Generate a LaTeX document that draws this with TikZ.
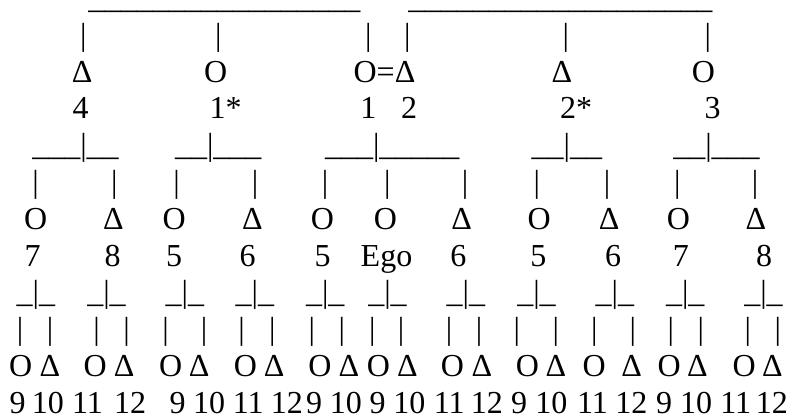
\documentclass[tikz,border=0pt]{standalone}
\usepackage{fontspec}
\setmainfont{Liberation Serif}
\ExplSyntaxOn
\NewDocumentCommand{\kUs}{m}{\prg_replicate:nn{#1}{\textunderscore}}
\ExplSyntaxOff
\begin{document}
\begin{tikzpicture}[x=1pt,y=-1pt,
  glyph/.style={inner sep=0pt, outer sep=0pt, anchor=base, font=\fontsize{32}{36.8}\selectfont},
  rulestr/.style={glyph, anchor=base west}]
\useasboundingbox (0,0) rectangle (795,414);
% row 0: top lines
\node[rulestr] (topA) at (88.3,8.5) {\kUs{17}};
\node[rulestr] (topB) at (408.3,8.5) {\kUs{19}};
% row 1: pipes
\foreach \x [count=\i] in {83.3,218.3,368.3,407.3,565.7,707.7}
  \node[glyph] (pA\i) at (\x,45.3) {\textbar};
% row 2: generation 1 symbols
\foreach \x/\s [count=\i] in {82.2/Δ,215.8/O,384.5/O=Δ,561.8/Δ,703.3/O}
  \node[glyph] (gA\i) at (\x,82.1) {\s};
% row 3: labels
\foreach \x/\s [count=\i] in {80.5/4,225.5/1*,368.3/1,409/2,576.2/2*,712.5/3}
  \node[glyph] (lA\i) at (\x,118.9) {\s};
% row 4: sibling bars
\node[rulestr] (bB1) at (32.3,155.7) {\kUs{3}\textbar\kUs{2}};
\node[rulestr] (bB2) at (175,155.7) {\kUs{2}\textbar\kUs{3}};
\node[rulestr] (bB3) at (325,155.7) {\kUs{3}\textbar\kUs{5}};
\node[rulestr] (bB4) at (531.7,155.7) {\kUs{2}\textbar\kUs{2}};
\node[rulestr] (bB5) at (673.3,155.7) {\kUs{2}\textbar\kUs{3}};
% row 5: pipes
\foreach \x [count=\i] in {35.7,114.3,176.7,255,325,387.3,465,536.7,607,677.3,755}
  \node[glyph] (pB\i) at (\x,192.5) {\textbar};
% row 6: generation 2 symbols
\foreach \x/\s [count=\i] in {35.8/O,113.3/Δ,174.2/O,252.5/Δ,322.5/O,385.5/O,461.7/Δ,539.2/O,609.2/Δ,678.5/O,755.8/Δ}
  \node[glyph] (gB\i) at (\x,229.3) {\s};
% row 7: labels
\foreach \x/\s [count=\i] in {32.5/7,112.5/8,174.2/5,247.5/6,322.5/5,386.5/Ego,458.3/6,538.3/5,613/6,680.8/7,764.2/8}
  \node[glyph] (lB\i) at (\x,266.1) {\s};
% row 8: sibling bars
\foreach \x [count=\i] in {16.7,87.3,165.7,235.7,306,368.3,446.7,517.3,595.7,666,744.3}
  \node[rulestr] (bC\i) at (\x,302.9) {\kUs{1}\textbar\kUs{1}};
% row 9: pipes
\foreach \x [count=\i] in {20,50,96.7,126.7,165.7,204,241.7,272.3,311.7,341.7,372.3,401,449,479,516.7,555.7,594.3,632.7,670.7,700.7,747.7,777.7}
  \node[glyph] (pC\i) at (\x,339.7) {\textbar};
% row 10: generation 3 symbols
\foreach \x/\s [count=\i] in {20.8/O,50/Δ,95.2/O,124.2/Δ,170.8/O,199.2/Δ,245.5/O,274.2/Δ,320/O,348.8/Δ,378.3/O,407.5/Δ,452.5/O,481.8/Δ,527.3/O,555.8/Δ,594.2/O,631.7/Δ,669.2/O,697.5/Δ,744.2/O,772.5/Δ}
  \node[glyph] (gC\i) at (\x,376.5) {\s};
% row 11: labels
\foreach \x/\s [count=\i] in {17.5/9,47.8/10,87.5/11,130.2/12,177.5/9,209.1/10,248.3/11,286.9/12,314.2/9,345.8/10,377.5/9,409.4/10,449.2/11,486.9/12,519.2/9,551.3/10,592.5/11,631.3/12,664.2/9,696.1/10,735.8/11,771.9/12}
  \node[glyph] (lC\i) at (\x,413.1) {\s};
\end{tikzpicture}
\end{document}
